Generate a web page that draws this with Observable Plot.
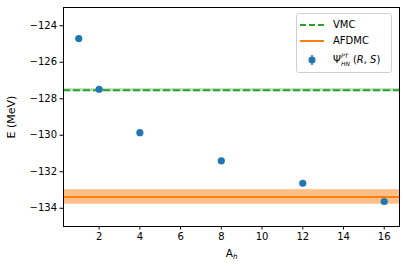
<!DOCTYPE html>
<html>
<head>
<meta charset="utf-8">
<script src="https://cdn.jsdelivr.net/npm/d3@7"></script>
<script src="https://cdn.jsdelivr.net/npm/@observablehq/plot@0.6"></script>
<style>
  html, body { margin: 0; padding: 0; background: #fff; }
  #wrap { position: relative; width: 407px; height: 268px; font-family: "DejaVu Sans", sans-serif; }
  #legend {
    position: absolute; left: 296px; top: 13px; width: 96px; height: 60px;
    border: 1px solid #d0d0d0; border-radius: 3px; background: rgba(255,255,255,0.85);
    box-sizing: border-box; font-size: 10px; color: #000;
  }
  .row { position: absolute; left: 0; height: 14px; display: flex; align-items: center; }
  .row svg { display: block; margin-left: 3px; }
  .row span.t { margin-left: 9px; white-space: nowrap; line-height: 1; }
  .sc { display: inline-block; position: relative; width: 12px; height: 14px; vertical-align: middle; font-style: italic; font-size: 6px; line-height: 6px; }
  .sc .up { position: absolute; left: 0; top: 0; }
  .sc .dn { position: absolute; left: 0; top: 7.5px; }
</style>
</head>
<body>
<div id="wrap"></div>
<script>
// Data
const Ah = [1, 2, 4, 8, 12, 16];
const energy = [-124.70, -127.48, -129.86, -131.40, -132.63, -133.63];
const vmcValue = -127.53;
const vmcError = 0.08;
const afdmcValue = -133.38;
const afdmcError = 0.40;
const xTicks = [2, 4, 6, 8, 10, 12, 14, 16];
const yTicks = [-134, -132, -130, -128, -126, -124];
const xDomain = [0.25, 16.75];
const yDomain = [-135, -123];

const blue = "#1f77b4", orange = "#ff7f0e", green = "#2ca02c";

const points = Ah.map((a, i) => ({a, e: energy[i]}));
const vmc = [{v: vmcValue, lo: vmcValue - vmcError, hi: vmcValue + vmcError}];
const afdmc = [{v: afdmcValue, lo: afdmcValue - afdmcError, hi: afdmcValue + afdmcError}];

const chart = Plot.plot({
  width: 407,
  height: 268,
  marginLeft: 63,
  marginRight: 8,
  marginTop: 7,
  marginBottom: 42,
  style: {fontFamily: "DejaVu Sans, sans-serif", fontSize: "10px", color: "#000", background: "#fff"},
  x: {domain: xDomain},
  y: {domain: yDomain},
  marks: [
    Plot.rect(vmc, {y1: "lo", y2: "hi", fill: green, fillOpacity: 0.35}),
    Plot.ruleY(vmc, {y: "v", stroke: green, strokeWidth: 2, strokeDasharray: "7,3"}),
    Plot.rect(afdmc, {y1: "lo", y2: "hi", fill: orange, fillOpacity: 0.5}),
    Plot.ruleY(afdmc, {y: "v", stroke: orange, strokeWidth: 2}),
    Plot.dot(points, {x: "a", y: "e", r: 3.6, fill: blue, stroke: "none"}),
    Plot.axisX({ticks: xTicks, tickSize: 3.5, tickPadding: 3, fontSize: 10,
      label: "Ah", labelAnchor: "center", labelArrow: "none", labelOffset: 30}),
    Plot.axisY({ticks: yTicks, tickSize: 3.5, tickPadding: 3, fontSize: 10,
      label: "E (MeV)", labelAnchor: "center", labelArrow: "none", labelOffset: 56}),
    Plot.frame({stroke: "#000", strokeWidth: 1})
  ]
});

// style axis labels
d3.select(chart).selectAll("text").each(function() {
  const t = d3.select(this);
  if (t.text() === "Ah") {
    t.text("").style("font-size", "10.5px");
    t.append("tspan").text("A");
    t.append("tspan").attr("font-style", "italic").attr("font-size", "7px").attr("dy", "2").text("h");
  } else if (t.text() === "E (MeV)") {
    t.style("font-size", "11px");
  }
});

const wrap = document.getElementById("wrap");
wrap.appendChild(chart);

const legend = document.createElement("div");
legend.id = "legend";
legend.innerHTML = `
  <div class="row" style="top:4px"><svg width="24" height="14"><line x1="0" y1="7" x2="24" y2="7" stroke="${green}" stroke-width="2" stroke-dasharray="6,3"/></svg><span class="t">VMC</span></div>
  <div class="row" style="top:20px"><svg width="24" height="14"><line x1="0" y1="7" x2="24" y2="7" stroke="${orange}" stroke-width="2"/></svg><span class="t">AFDMC</span></div>
  <div class="row" style="top:39px"><svg width="24" height="14"><line x1="12" y1="2" x2="12" y2="12" stroke="${blue}" stroke-width="1.5"/><circle cx="12" cy="7" r="3.5" fill="${blue}"/></svg><span class="t">Ψ<span class="sc"><span class="up">PT</span><span class="dn">HN</span></span>(<i>R</i>, <i>S</i>)</span></div>
`;
wrap.appendChild(legend);
</script>
</body>
</html>
